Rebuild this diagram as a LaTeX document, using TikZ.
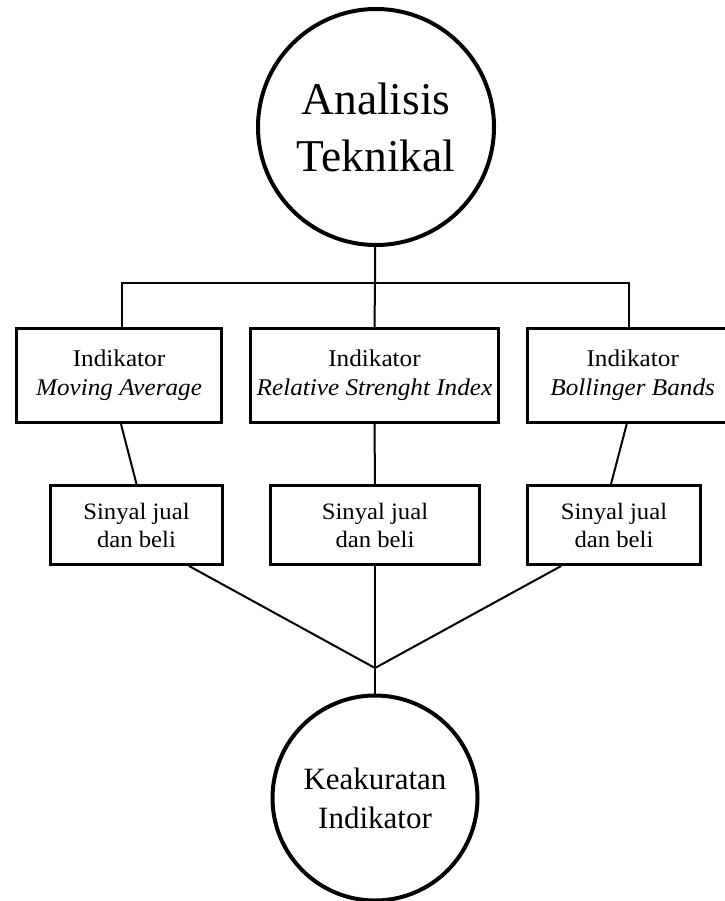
\documentclass[tikz,border=0pt]{standalone}
\usepackage{fontspec}
\setmainfont{Liberation Serif}
\newfontfamily\wideserif[FakeStretch=1.05]{Liberation Serif}
\usetikzlibrary{calc}

\begin{document}
\begin{tikzpicture}[x=1pt,y=-1pt,
                    circle node/.style={circle,draw,line width=4pt,inner sep=0pt,align=center},
                    ind node/.style={rectangle,draw,line width=3.3pt,minimum height=94pt,inner sep=0pt,align=center,
                      font=\wideserif\fontsize{24}{29}\selectfont},
                    sig node/.style={rectangle,draw,line width=3.3pt,minimum height=78.6pt,inner sep=0pt,align=center,
                      font=\wideserif\fontsize{23.5}{28}\selectfont},
                    link/.style={line width=2pt}]

  \useasboundingbox (0,0) rectangle (724,901);

  \node[circle node,minimum size=236pt,font=\fontsize{45.5}{57}\selectfont] (ta) at (376,127) {Analisis\\Teknikal};

  \node[ind node,minimum width=204.6pt] (ma)  at (119,375.5)   {Indikator\\\textit{Moving Average}};
  \node[ind node,minimum width=248pt]   (rsi) at (374.5,375.5) {Indikator\\\textit{Relative Strenght Index}};
  \node[ind node,minimum width=210pt]   (bb)  at (632.7,375.5) {Indikator\\\textit{Bollinger Bands}};

  \node[sig node,minimum width=171.6pt] (s1) at (136.5,525) {Sinyal jual\\dan beli};
  \node[sig node,minimum width=208.6pt] (s2) at (375,525)   {Sinyal jual\\dan beli};
  \node[sig node,minimum width=172.6pt] (s3) at (614,525)   {Sinyal jual\\dan beli};

  \node[circle node,minimum size=205pt,font=\fontsize{31}{39}\selectfont] (ki) at (375,798) {Keakuratan\\Indikator};

  \coordinate (bar)  at (375,283);
  \coordinate (join) at (375,668);

  % tree from the top circle
  \draw[link] (ta) -- (bar);
  \draw[link] ([xshift=3pt]ma.north) |- (bar) -| ([xshift=-4pt]bb.north);
  \draw[link] (bar) -- (rsi.north);

  % indicators to signals
  \draw[link] ([xshift=2pt]ma.south) -- (s1.north);
  \draw[link] (rsi.south) -- (s2.north);
  \draw[link] ([xshift=-6pt]bb.south) -- ([xshift=-3pt]s3.north);

  % signals to accuracy
  \draw[link] ($(s1.south)!0.6!(s1.south east)$) -- (join);
  \draw[link] (s2.south) -- (join);
  \draw[link] ($(s3.south)!0.6!(s3.south west)$) -- (join);
  \draw[link] (join) -- (ki);
\end{tikzpicture}
\end{document}
